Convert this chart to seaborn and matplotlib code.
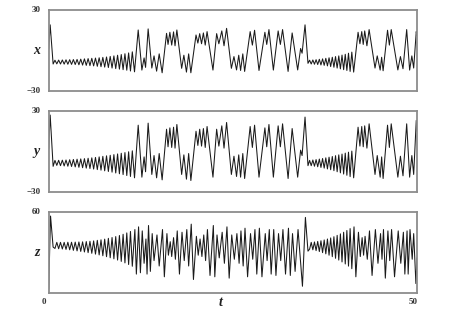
import matplotlib
matplotlib.use("Agg")
import matplotlib.pyplot as plt
import seaborn as sns
import pandas as pd

# ---- data (extremes of each trace) ----
t_xy = [0.0, 0.2, 0.6,
        0.85, 1.1, 1.35, 1.6, 1.85, 2.1, 2.35, 2.6, 2.85, 3.1, 3.35, 3.6, 3.85, 4.1, 4.35, 4.6, 4.85, 5.1,
        5.35, 5.6, 5.85, 6.1, 6.35, 6.6, 6.85, 7.1, 7.35, 7.6, 7.85, 8.1, 8.35, 8.6, 8.85, 9.1, 9.35, 9.6,
        9.85, 10.1, 10.35, 10.6, 10.85, 11.1, 11.35, 11.65,
        12.15, 12.65, 12.95, 13.15, 13.5, 14.0, 14.3, 14.65, 15.0, 15.4, 16.0, 16.2, 16.45, 16.7, 16.95,
        17.15, 17.4, 18.05, 18.35, 18.7, 19.0, 19.3, 20.0, 20.25, 20.5, 20.75, 21.0, 21.25, 21.5, 22.3,
        22.8, 23.1, 23.5, 23.8, 24.15, 24.8, 25.15, 25.5, 25.8, 26.05, 26.35, 26.6, 27.35, 27.65, 27.95,
        28.55, 29.35, 29.6, 29.9, 30.5, 31.15, 31.45, 31.75, 32.5, 33.05, 33.8, 34.2, 34.4, 34.8, 35.2,
        35.42, 35.64, 35.86, 36.08, 36.3, 36.52, 36.74, 36.96, 37.18, 37.4, 37.62, 37.84, 38.06, 38.28,
        38.5, 38.72, 38.94, 39.16, 39.38, 39.6, 39.82, 40.04, 40.26, 40.48, 40.7, 40.92, 41.15, 41.4,
        42.0, 42.25, 42.5, 42.7, 42.9, 43.2, 43.5, 44.3, 44.6, 45.0, 45.2, 45.4, 46.0, 46.25, 46.5,
        47.4, 47.75, 48.1, 48.6, 49.0, 49.3, 49.55, 49.9, 50.0]

x_vals = [1, 19, -10,
          -7.2, -9.9, -7.1, -10.0, -7.0, -10.1, -6.9, -10.2, -6.8, -10.3, -6.7, -10.4, -6.6, -10.6, -6.4,
          -10.8, -6.2, -11.0, -6.0, -11.2, -5.8, -11.4, -5.6, -11.7, -5.4, -12.0, -5.1, -12.3, -4.8, -12.6,
          -4.4, -13.0, -4.0, -13.4, -3.5, -13.8, -3.0, -14.2, -2.4, -14.6, -1.8, -15.2, -1.0, -15.8,
          15.2, -14.5, -5.5, -12.5, 16.0, -13.0, -4.0, -15.3, -2.5, -16.5, 12.7, 4.5, 13.5, 4.0, 13.8,
          3.5, 15.2, -13.2, -3.5, -16.0, -2.5, -16.5, 11.5, 5.5, 12.5, 5.0, 13.0, 4.0, 14.0, -14.5,
          12.5, 5.0, 14.5, 3.5, 16.4, -13.2, -4.5, -14.4, -3.5, -14.8, -2.5, -15.5, 14.0, 4.0, 15.0,
          -14.8, 13.5, 4.5, 15.5, -14.5, 14.5, 4.5, 15.5, -15.5, 13.0, -14.4, 1.5, -2.0, 19.0, -9.5,
          -7.2, -10.0, -7.0, -10.2, -6.8, -10.4, -6.5, -10.7, -6.2, -11.0, -5.8, -11.4, -5.4, -11.9,
          -5.0, -12.4, -4.5, -13.0, -4.0, -13.6, -3.4, -14.2, -2.8, -14.8, -2.0, -15.5, -1.2, -16.0,
          13.5, 5.0, 14.0, 4.5, 14.5, 3.5, 15.5, -13.0, -4.0, -14.5, -5.0, -15.0, 15.0, 4.0, 15.5,
          -14.4, -4.5, -13.5, 15.5, -14.5, -4.0, -13.0, 14.0, 11.0]

y_vals = [2, 27, -11,
          -6.6, -10.3, -6.5, -10.5, -6.4, -10.7, -6.3, -10.9, -6.1, -11.1, -5.9, -11.4, -5.7, -11.7, -5.5,
          -12.0, -5.3, -12.3, -5.0, -12.6, -4.7, -13.0, -4.4, -13.4, -4.0, -13.8, -3.6, -14.3, -3.2, -14.8,
          -2.8, -15.3, -2.3, -15.9, -1.8, -16.5, -1.3, -17.1, -0.8, -17.8, -0.2, -18.5, 0.5, -19.5,
          19.5, -19.0, -4.0, -15.0, 21.0, -17.0, -3.0, -19.5, -1.5, -21.0, 16.5, 3.5, 17.5, 3.0, 18.0,
          2.5, 20.0, -17.0, -2.5, -20.5, -1.5, -21.5, 15.0, 4.5, 16.5, 4.0, 17.0, 3.0, 18.5, -19.0,
          16.5, 4.0, 19.0, 2.5, 21.5, -17.0, -3.5, -18.5, -2.5, -19.0, -1.5, -20.0, 18.5, 3.0, 19.5,
          -19.0, 17.5, 3.5, 20.0, -19.0, 19.0, 3.5, 20.5, -20.0, 17.0, -19.0, 1.0, -3.0, 25.5, -10.5,
          -6.6, -10.5, -6.3, -10.9, -6.0, -11.3, -5.6, -11.8, -5.2, -12.3, -4.7, -12.9, -4.2, -13.5,
          -3.7, -14.2, -3.1, -15.0, -2.5, -15.8, -1.9, -16.7, -1.2, -17.6, -0.5, -18.6, 0.3, -19.5,
          18.0, 4.0, 18.5, 3.5, 19.0, 2.5, 20.5, -17.0, -3.0, -19.0, -4.0, -20.0, 19.5, 3.0, 20.5,
          -19.0, -3.5, -18.0, 20.5, -19.0, -3.0, -17.0, 23.0, 15.0]

t_z = [0.0, 0.25, 0.6,
       0.85, 1.1, 1.35, 1.6, 1.85, 2.1, 2.35, 2.6, 2.85, 3.1, 3.35, 3.6, 3.85, 4.1, 4.35, 4.6, 4.85, 5.1,
       5.35, 5.6, 5.85, 6.1, 6.35, 6.6, 6.85, 7.1, 7.35, 7.6, 7.85, 8.1, 8.35, 8.6, 8.85, 9.1, 9.35, 9.6,
       9.85, 10.1, 10.35, 10.6, 10.85, 11.1, 11.35, 11.7,
       11.9, 12.2, 12.45, 12.7, 12.95, 13.2, 13.35, 13.55, 13.8, 14.05, 14.3, 14.7, 15.0, 15.45, 15.7,
       16.05, 16.25, 16.5, 16.7, 16.95, 17.2, 17.45, 17.75, 18.1, 18.4, 18.75, 19.0, 19.35, 19.65,
       20.05, 20.3, 20.55, 20.8, 21.05, 21.3, 21.55, 21.9, 22.35, 22.55, 22.85, 23.15, 23.55, 23.85,
       24.2, 24.5, 24.85, 25.2, 25.55, 25.85, 26.1, 26.4, 26.65, 27.0, 27.4, 27.7, 28.0, 28.25, 28.6,
       28.95, 29.4, 29.65, 29.95, 30.2, 30.55, 30.85, 31.2, 31.5, 31.8, 32.15, 32.55, 32.8, 33.1,
       33.45, 33.85, 34.45, 34.85, 35.2,
       35.42, 35.64, 35.86, 36.08, 36.3, 36.52, 36.74, 36.96, 37.18, 37.4, 37.62, 37.84, 38.06, 38.28,
       38.5, 38.72, 38.94, 39.16, 39.38, 39.6, 39.82, 40.04, 40.26, 40.48, 40.7, 40.92, 41.15, 41.45,
       41.7, 42.05, 42.3, 42.55, 42.75, 42.95, 43.25, 43.55, 43.9, 44.35, 44.7, 45.05, 45.25, 45.45,
       45.7, 46.05, 46.3, 46.55, 46.95, 47.45, 47.8, 48.15, 48.35, 48.65, 48.8, 49.05, 49.35, 49.55,
       49.85, 50.0]

z_vals = [3, 57, 34,
          33.0, 37.5, 32.8, 37.5, 32.6, 37.5, 32.3, 37.6, 32.0, 37.6, 31.6, 37.7, 31.2, 37.8, 30.8, 37.9,
          30.4, 38.1, 29.9, 38.3, 29.4, 38.6, 28.8, 39.0, 28.2, 39.4, 27.6, 39.9, 26.9, 40.5, 26.1, 41.1,
          25.3, 41.8, 24.4, 42.6, 23.4, 43.5, 22.3, 44.5, 21.1, 45.6, 19.8, 47.0,
          14, 49, 15, 46, 22, 40, 14, 50, 16, 44, 24, 43, 20, 47, 12,
          44, 28, 38, 27, 41, 25, 46, 14, 45, 24, 47, 20, 51, 10,
          42, 28, 40, 27, 43, 24, 47, 13, 50, 12, 43, 26, 45, 22,
          49, 11, 43, 25, 44, 22, 46, 20, 48, 12, 44, 25, 47, 14, 48,
          12, 44, 24, 47, 14, 47, 13, 44, 24, 47, 14, 48, 13, 44,
          16, 47, 5, 56, 31,
          32.5, 37.5, 32.0, 37.8, 31.4, 38.2, 30.7, 38.7, 29.9, 39.3, 29.0, 40.0, 28.0, 40.8,
          26.9, 41.7, 25.7, 42.7, 24.4, 43.8, 23.0, 45.0, 21.5, 46.3, 19.9, 47.7, 18.0, 49.0,
          12, 45, 27, 41, 28, 42, 25, 46, 13, 47, 22, 44, 25, 47,
          11, 46, 24, 47, 12, 46, 22, 45, 14, 46, 14, 47, 25, 44,
          7, 26]

panels = [
    ("x", t_xy, x_vals, (-30, 30), ["30", "\u221230"]),
    ("y", t_xy, y_vals, (-30, 30), ["30", "\u221230"]),
    ("z", t_z, z_vals, (0, 60), ["60", None]),
]
x_tick_labels = ["0", "50"]
x_axis_label = "t"

# ---- drawing ----
sns.set_style("white")
plt.rcParams["font.family"] = ["Liberation Serif", "DejaVu Serif"]

W, H = 454, 311
fig = plt.figure(figsize=(W / 100, H / 100), dpi=100)
fig.patch.set_facecolor("white")

left_px, right_px = 48.7, 417.0
tops = [10, 111, 212]
ph = 81

def fx(px):
    return px / W

def fy(py):
    return 1 - py / H

for (name, tt, vv, lim, lbls), top in zip(panels, tops):
    ax = fig.add_axes([fx(left_px), fy(top + ph), (right_px - left_px) / W, ph / H])
    df = pd.DataFrame({"t": tt, "v": vv})
    sns.lineplot(data=df, x="t", y="v", ax=ax, color="#1a1a1a", linewidth=0.75,
                 estimator=None, sort=False)
    ax.set_xlim(0, 50)
    ax.set_ylim(*lim)
    ax.set_xticks([])
    ax.set_yticks([])
    ax.set_xlabel("")
    ax.set_ylabel("")
    for s in ax.spines.values():
        s.set_color("#8c8c8c")
        s.set_linewidth(1.3)
    fig.text(fx(41), fy(top), lbls[0], ha="right", va="center", fontsize=6.5,
             fontweight="bold", color="#333333")
    if lbls[1]:
        fig.text(fx(41), fy(top + ph), lbls[1], ha="right", va="center", fontsize=6.5,
                 fontweight="bold", color="#333333")
    fig.text(fx(40), fy(top + ph / 2), name, ha="right", va="center", fontsize=10,
             fontweight="bold", style="italic", color="#222222")

fig.text(fx(44), fy(302), x_tick_labels[0], ha="center", va="center", fontsize=6.5,
         fontweight="bold", color="#333333")
fig.text(fx(413), fy(302), x_tick_labels[1], ha="center", va="center", fontsize=6.5,
         fontweight="bold", color="#333333")
fig.text(fx(221), fy(302), x_axis_label, ha="center", va="center", fontsize=10,
         fontweight="bold", style="italic", color="#222222")

fig.savefig("out.png", dpi=100, facecolor="white")
